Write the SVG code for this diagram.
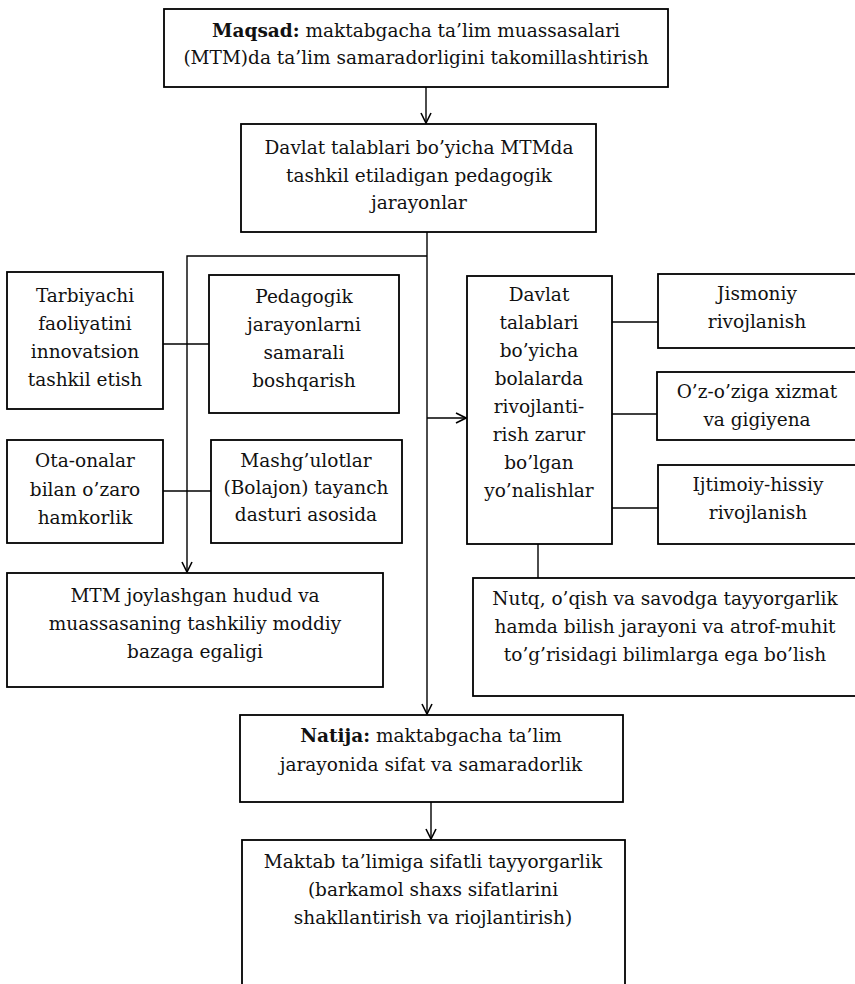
<svg xmlns="http://www.w3.org/2000/svg" width="855" height="984" viewBox="0 0 855 984">
<style>
  .box{fill:#fff;stroke:#000;stroke-width:1.8}
  .t{font-family:"DejaVu Serif",serif;font-size:18.5px;fill:#111;text-anchor:middle}
  .b{font-weight:bold}
  .c{fill:none;stroke:#000;stroke-width:1.4}
</style>
<defs>
  <marker id="ah" viewBox="0 0 12 12" refX="11" refY="6" markerWidth="12" markerHeight="12" markerUnits="userSpaceOnUse" orient="auto">
    <path d="M1,1 L11,6 L1,11" fill="none" stroke="#000" stroke-width="1.6"/>
  </marker>
</defs>
<rect width="855" height="984" fill="#fff"/>

<g id="connectors">
  <path class="c" d="M426,87 V123" marker-end="url(#ah)"/>
  <path class="c" d="M427,232 V714" marker-end="url(#ah)"/>
  <path class="c" d="M427,256 H187 V572" marker-end="url(#ah)"/>
  <path class="c" d="M427,418 H466" marker-end="url(#ah)"/>
  <path class="c" d="M163,344 H209"/>
  <path class="c" d="M163,491 H211"/>
  <path class="c" d="M612,322 H658"/>
  <path class="c" d="M612,414 H657"/>
  <path class="c" d="M612,508 H658"/>
  <path class="c" d="M538,544 V578"/>
  <path class="c" d="M431,802 V839" marker-end="url(#ah)"/>
</g>

<g id="maqsad">
  <rect class="box" x="164" y="9" width="504" height="78"/>
  <text class="t" x="416" y="37"><tspan class="b">Maqsad:</tspan> maktabgacha ta’lim muassasalari</text>
  <text class="t" x="416" y="64">(MTM)da ta’lim samaradorligini takomillashtirish</text>
</g>

<g id="davlat-talablari">
  <rect class="box" x="241" y="124" width="355" height="108"/>
  <text class="t" x="419" y="154">Davlat talablari bo’yicha MTMda</text>
  <text class="t" x="419" y="182">tashkil etiladigan pedagogik</text>
  <text class="t" x="419" y="209">jarayonlar</text>
</g>

<g id="tarbiyachi">
  <rect class="box" x="7" y="272" width="156" height="137"/>
  <text class="t" x="85" y="302">Tarbiyachi</text>
  <text class="t" x="85" y="330">faoliyatini</text>
  <text class="t" x="85" y="358">innovatsion</text>
  <text class="t" x="85" y="386">tashkil etish</text>
</g>

<g id="pedagogik">
  <rect class="box" x="209" y="275" width="190" height="138"/>
  <text class="t" x="304" y="303">Pedagogik</text>
  <text class="t" x="304" y="331">jarayonlarni</text>
  <text class="t" x="304" y="359">samarali</text>
  <text class="t" x="304" y="387">boshqarish</text>
</g>

<g id="ota-onalar">
  <rect class="box" x="7" y="440" width="156" height="103"/>
  <text class="t" x="85" y="467">Ota-onalar</text>
  <text class="t" x="85" y="496">bilan o’zaro</text>
  <text class="t" x="85" y="524">hamkorlik</text>
</g>

<g id="mashgulotlar">
  <rect class="box" x="211" y="440" width="191" height="103"/>
  <text class="t" x="306" y="467">Mashg’ulotlar</text>
  <text class="t" x="306" y="494">(Bolajon) tayanch</text>
  <text class="t" x="306" y="521">dasturi asosida</text>
</g>

<g id="mtm-hudud">
  <rect class="box" x="7" y="573" width="376" height="114"/>
  <text class="t" x="195" y="602">MTM joylashgan hudud va</text>
  <text class="t" x="195" y="630">muassasaning tashkiliy moddiy</text>
  <text class="t" x="195" y="658">bazaga egaligi</text>
</g>

<g id="yonalishlar">
  <rect class="box" x="467" y="276" width="145" height="268"/>
  <text class="t" x="539" y="301">Davlat</text>
  <text class="t" x="539" y="329">talablari</text>
  <text class="t" x="539" y="357">bo’yicha</text>
  <text class="t" x="539" y="385">bolalarda</text>
  <text class="t" x="539" y="413">rivojlanti-</text>
  <text class="t" x="539" y="441">rish zarur</text>
  <text class="t" x="539" y="469">bo’lgan</text>
  <text class="t" x="539" y="497">yo’nalishlar</text>
</g>

<g id="jismoniy">
  <rect class="box" x="658" y="274" width="210" height="74"/>
  <text class="t" x="757" y="300">Jismoniy</text>
  <text class="t" x="757" y="328">rivojlanish</text>
</g>

<g id="oz-oziga">
  <rect class="box" x="657" y="372" width="210" height="68"/>
  <text class="t" x="757" y="398">O’z-o’ziga xizmat</text>
  <text class="t" x="757" y="426">va gigiyena</text>
</g>

<g id="ijtimoiy">
  <rect class="box" x="658" y="465" width="210" height="79"/>
  <text class="t" x="758" y="491">Ijtimoiy-hissiy</text>
  <text class="t" x="758" y="519">rivojlanish</text>
</g>

<g id="nutq">
  <rect class="box" x="473" y="578" width="395" height="118"/>
  <text class="t" x="665" y="605">Nutq, o’qish va savodga tayyorgarlik</text>
  <text class="t" x="665" y="633">hamda bilish jarayoni va atrof-muhit</text>
  <text class="t" x="665" y="661">to’g’risidagi bilimlarga ega bo’lish</text>
</g>

<g id="natija">
  <rect class="box" x="240" y="715" width="383" height="87"/>
  <text class="t" x="431" y="742"><tspan class="b">Natija:</tspan> maktabgacha ta’lim</text>
  <text class="t" x="431" y="771">jarayonida sifat va samaradorlik</text>
</g>

<g id="maktab">
  <rect class="box" x="242" y="840" width="383" height="160"/>
  <text class="t" x="433" y="868">Maktab ta’limiga sifatli tayyorgarlik</text>
  <text class="t" x="433" y="896">(barkamol shaxs sifatlarini</text>
  <text class="t" x="433" y="924">shakllantirish va riojlantirish)</text>
</g>
</svg>
